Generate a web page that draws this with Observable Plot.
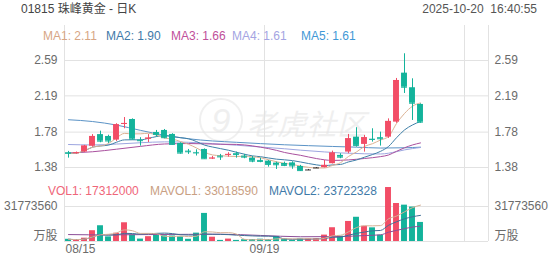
<!DOCTYPE html>
<html><head><meta charset="utf-8">
<script src="https://cdn.jsdelivr.net/npm/d3@7"></script>
<script src="https://cdn.jsdelivr.net/npm/@observablehq/plot@0.6"></script>
<style>
html,body{margin:0;padding:0;background:#fff;}
#chart{position:relative;width:552px;height:265px;overflow:hidden;font-family:"Liberation Sans",Arial,"Noto Sans CJK SC",sans-serif;background:#fff;}
#chart svg{position:absolute;left:0;top:0;}
.t{position:absolute;font-size:12px;white-space:pre;line-height:12px;}
.wm{position:absolute;color:#efefef;white-space:nowrap;font-family:"Noto Sans CJK SC",sans-serif;}
</style></head><body><div id="chart"></div>
<script>
// ---- data ----
const dates = ["08/15","08/18","08/19","08/20","08/21","08/22","08/25","08/26","08/27","08/28","08/29",
"09/01","09/02","09/03","09/04","09/05","09/08","09/09","09/10","09/11","09/12",
"09/15","09/16","09/17","09/18","09/19","09/22","09/23","09/24","09/25","09/26",
"09/29","09/30","10/02","10/03","10/06","10/08","10/09","10/10",
"10/13","10/14","10/15","10/16","10/17","10/20"];
const opens  = [1.548,1.540,1.555,1.620,1.752,1.731,1.690,1.868,1.923,1.690,1.700,1.776,1.799,1.754,1.652,1.565,1.550,1.584,1.480,1.509,1.520,1.536,1.509,1.486,1.460,1.452,1.430,1.426,1.432,1.392,1.352,1.375,1.378,1.423,1.517,1.554,1.723,1.641,1.700,1.717,1.723,1.893,2.447,2.282,2.093];
const highs  = [1.562,1.555,1.630,1.752,1.791,1.745,1.875,1.945,1.930,1.717,1.752,1.799,1.810,1.762,1.660,1.584,1.580,1.590,1.505,1.528,1.547,1.554,1.528,1.505,1.486,1.460,1.441,1.441,1.445,1.404,1.358,1.380,1.460,1.565,1.536,1.754,1.830,1.743,1.818,1.780,1.930,2.387,2.666,2.383,2.100];
const lows   = [1.486,1.530,1.550,1.610,1.660,1.652,1.675,1.818,1.690,1.622,1.663,1.723,1.705,1.633,1.531,1.528,1.510,1.475,1.470,1.460,1.497,1.486,1.479,1.434,1.434,1.384,1.358,1.390,1.360,1.335,1.345,1.370,1.375,1.420,1.479,1.536,1.610,1.554,1.667,1.622,1.709,1.880,2.217,1.912,1.880];
const closes = [1.540,1.547,1.622,1.731,1.678,1.680,1.863,1.878,1.701,1.683,1.712,1.754,1.717,1.641,1.543,1.558,1.545,1.479,1.486,1.500,1.528,1.526,1.497,1.452,1.449,1.415,1.411,1.404,1.398,1.345,1.352,1.375,1.404,1.543,1.497,1.705,1.630,1.717,1.697,1.705,1.901,2.364,2.288,2.107,1.893];
const volumes = [2000000,1500000,3000000,9800000,14300000,4200000,7500000,17000000,5800000,2200000,4400000,5800000,5200000,5000000,4200000,2000000,7600000,25500000,3900000,1000000,2200000,1000000,1600000,1800000,2100000,1800000,4600000,2400000,1000000,2400000,2400000,2700000,5800000,12500000,4800000,18200000,22000000,13800000,12400000,5730000,49000000,34500000,33000000,31280000,17312000];

// longer moving averages (index, value)
const ma3At = [0,3,6,9,12,15,17,19,21,22,24,26,27,29,31,33,35,37,39,40,41,42,43,44];
const ma3   = [1.545,1.558,1.587,1.619,1.646,1.651,1.648,1.643,1.641,1.635,1.610,1.574,1.550,1.518,1.481,1.460,1.466,1.482,1.503,1.521,1.563,1.603,1.635,1.658];
const ma4At = [0,3,6,9,12,15,18,21,24,27,29,32,34,37,39,41,42,43,44];
const ma4   = [1.640,1.635,1.645,1.660,1.670,1.665,1.650,1.632,1.612,1.592,1.576,1.556,1.545,1.535,1.533,1.559,1.579,1.594,1.606];
const ma5At = [0,3,6,9,12,15,18,21,24,27,30,33,36,39,42,44];
const ma5   = [1.920,1.900,1.860,1.800,1.745,1.705,1.680,1.665,1.650,1.637,1.627,1.618,1.610,1.600,1.603,1.610];
const mavol3At = [0,5,10,15,19,24,29,34,37,39,40,41,42,43,44];
const mavol3   = [6300000,6000000,6300000,6500000,6600000,5500000,4300000,4500000,5400000,6060000,8400000,10080000,11650000,13120000,13880000];

const priceTicks = [1.38, 1.78, 2.19, 2.59];
const volTicks = [0, 31773560];
const volTickLabels = ["万股", "31773560"];
const xLabelDates = ["08/15", "09/19"];

const maLegend = [["MA1: 2.11","#d7a685",43],["MA2: 1.90","#3f7aa8",106],["MA3: 1.66","#c0509a",171],["MA4: 1.61","#a4a4e2",232],["MA5: 1.61","#3f98d6",301]];
const volLegend = [["VOL1: 17312000","#ef6679",48],["MAVOL1: 33018590","#c9a083",150],["MAVOL2: 23722328","#3f7aa8",269]];

// ---- build ----
const UP = "#f24d66", DOWN = "#13b39b", FLAT = "#333333", GRID = "#e2e2e2", TXT = "#6b6b6b";
const data = dates.map((d, i) => ({i, date: d, o: opens[i], h: highs[i], l: lows[i], c: closes[i], v: volumes[i]}));
data.forEach((d, k) => {
  d.dir = d.c > d.o ? 1 : d.c < d.o ? -1 : 0;
  d.vdir = d.dir !== 0 ? d.dir : (k > 0 && d.c > data[k - 1].c ? 1 : -1);
});
const colOf = dir => dir > 0 ? UP : dir < 0 ? DOWN : FLAT;
const half = 0.37;
const W = 552, H = 265;
const xDomain = [-0.5, 52.5];
const gridEvery = 25;
const xGrid = d3.range(0, xDomain[1], gridEvery).map(k => k - 0.5).concat([xDomain[1]]);
const xTicks = xLabelDates.map(d => dates.indexOf(d) - 0.5);
const pts = (at, vals) => at.map((i, k) => ({i, v: vals[k]}));
const font = '"Liberation Sans", Arial, "Noto Sans CJK SC", sans-serif';
const common = {
  width: W, height: H, marginLeft: 64, marginRight: 64, marginTop: 25, marginBottom: 24,
  x: {type: "linear", domain: xDomain, range: [64, 488], axis: null},
  style: {background: "transparent", fontFamily: font, fontSize: "12px", overflow: "visible"}
};

const price = Plot.plot({
  ...common,
  y: {domain: [1.38, 2.59], range: [167, 60], axis: null},
  marks: [
    Plot.ruleY(priceTicks, {stroke: GRID}),
    Plot.ruleX(xGrid, {stroke: GRID}),
    Plot.text(priceTicks, {y: d => d, frameAnchor: "left", textAnchor: "end", dx: -7, text: d => d.toFixed(2), fill: TXT, fontSize: 12}),
    Plot.text(priceTicks, {y: d => d, frameAnchor: "right", textAnchor: "start", dx: 6, text: d => d.toFixed(2), fill: TXT, fontSize: 12}),
    Plot.line(pts(ma5At, ma5), {x: "i", y: "v", stroke: "#5b93c6", strokeWidth: 1, curve: "monotone-x"}),
    Plot.line(pts(ma4At, ma4), {x: "i", y: "v", stroke: "#9da6e0", strokeWidth: 1, curve: "monotone-x"}),
    Plot.line(pts(ma3At, ma3), {x: "i", y: "v", stroke: "#a9509e", strokeWidth: 1, curve: "monotone-x"}),
    Plot.line(data, Plot.windowY({k: 10, anchor: "end", reduce: "mean"}, {x: "i", y: "c", stroke: "#3f80a8", strokeWidth: 1, curve: "monotone-x"})),
    Plot.line(data, Plot.windowY({k: 5, anchor: "end", reduce: "mean"}, {x: "i", y: "c", stroke: "#dcb293", strokeWidth: 1, curve: "monotone-x"})),
    Plot.ruleX(data, {x: "i", y1: "l", y2: "h", stroke: d => colOf(d.dir)}),
    Plot.rect(data, {x1: d => d.i - half, x2: d => d.i + half, y1: "o", y2: "c", fill: d => colOf(d.dir)}),
    Plot.ruleY(data, {x1: d => d.i - half, x2: d => d.i + half, y: "c", stroke: d => colOf(d.dir)})
  ],
  color: {type: "identity"}
});

const vol = Plot.plot({
  ...common,
  y: {domain: [0, 31773560], range: [241, 206], axis: null},
  marks: [
    Plot.ruleY(volTicks, {stroke: GRID}),
    Plot.text(volTicks, {y: d => d, frameAnchor: "left", textAnchor: "end", dx: -7, text: (d, k) => volTickLabels[k], fill: TXT, fontSize: 12, filter: d => d > 0}),
    Plot.text(volTicks, {y: d => d, frameAnchor: "right", textAnchor: "start", dx: 6, text: (d, k) => volTickLabels[k], fill: TXT, fontSize: 12, filter: d => d > 0}),
    Plot.text(volTicks, {y: d => d, frameAnchor: "left", textAnchor: "end", dx: -7, dy: -5, text: (d, k) => volTickLabels[k], fill: TXT, fontSize: 12, filter: d => d === 0}),
    Plot.text(volTicks, {y: d => d, frameAnchor: "right", textAnchor: "start", dx: 6, dy: -5, text: (d, k) => volTickLabels[k], fill: TXT, fontSize: 12, filter: d => d === 0}),
    Plot.rectY(data, {x1: d => d.i - half, x2: d => d.i + half, y: "v", fill: d => colOf(d.vdir)}),
    Plot.line(pts(mavol3At, mavol3), {x: "i", y: "v", stroke: "#8c4e98", strokeWidth: 1, curve: "monotone-x"}),
    Plot.line(data, Plot.windowY({k: 10, anchor: "end", reduce: "mean"}, {x: "i", y: "v", stroke: "#3f6f96", strokeWidth: 1, curve: "monotone-x"})),
    Plot.line(data, Plot.windowY({k: 5, anchor: "end", reduce: "mean"}, {x: "i", y: "v", stroke: "#d6b196", strokeWidth: 1, curve: "monotone-x"})),
    Plot.text([xTicks[0]], {x: d => d, frameAnchor: "bottom", textAnchor: "start", dx: 1, dy: 11, text: () => xLabelDates[0], fill: TXT, fontSize: 12}),
    Plot.text([xTicks[1]], {x: d => d, frameAnchor: "bottom", textAnchor: "middle", dy: 11, text: () => xLabelDates[1], fill: TXT, fontSize: 12})
  ],
  color: {type: "identity"}
});

const root = document.getElementById("chart");
// watermark
const logo = document.createElement("div");
logo.className = "wm";
logo.style.cssText = "left:199px;top:98px;width:40px;height:40px;border:2px solid #f0f0f0;border-radius:50%;font-size:34px;line-height:40px;text-align:center;font-style:italic;font-family:'Liberation Sans',sans-serif;";
logo.textContent = "9";
root.appendChild(logo);
const wm = document.createElement("div");
wm.className = "wm";
wm.style.cssText = "left:247px;top:106px;font-size:29px;line-height:32px;letter-spacing:1px;font-style:italic;";
wm.textContent = "老虎社区";
root.appendChild(wm);

root.appendChild(price);
root.appendChild(vol);

function addText(txt, color, left, top, right) {
  const s = document.createElement("div");
  s.className = "t";
  s.textContent = txt;
  s.style.color = color;
  if (right != null) s.style.right = right + "px"; else s.style.left = left + "px";
  s.style.top = top + "px";
  root.appendChild(s);
}
addText("01815 珠峰黄金 - 日K", "#444", 21, 3);
addText("2025-10-20  16:40:55", "#555", null, 3, 15);
maLegend.forEach(([t, c, x]) => addText(t, c, x, 30));
volLegend.forEach(([t, c, x]) => addText(t, c, x, 185));
</script></body></html>
